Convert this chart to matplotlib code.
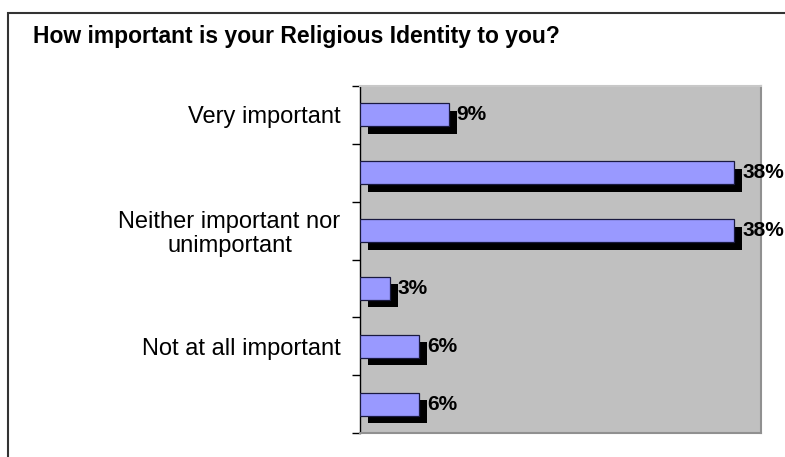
import matplotlib
matplotlib.use("Agg")
import matplotlib.pyplot as plt
from matplotlib.patches import Rectangle
from matplotlib.transforms import ScaledTranslation

# Survey answers, top to bottom; only every other category gets a printed label
categories = ["Very important", "", "Neither important nor\nunimportant", "", "Not at all important", ""]
percent = [9, 38, 38, 3, 6, 6]
title = "How important is your Religious Identity to you?"

plt.rcParams['font.family'] = ['Liberation Sans', 'DejaVu Sans']

fig = plt.figure(figsize=(7.85, 4.57), dpi=100)
ax = fig.add_axes([360 / 785, 1 - 433 / 457, 401 / 785, 347 / 457])
ax.set_facecolor('#c0c0c0')

pos = list(range(len(percent)))

# black drop shadow behind each bar, nudged right and down
shadow_tf = ax.transData + ScaledTranslation(0.08, -0.075, fig.dpi_scale_trans)
shadows = ax.barh(pos, percent, height=0.4, color='black', linewidth=0, zorder=2)
for s in shadows:
    s.set_transform(shadow_tf)

ax.barh(pos, percent, height=0.4, color='#9999ff', edgecolor='#1a1a40', linewidth=0.9, zorder=3)

for y, v in zip(pos, percent):
    ax.annotate(f"{v}%", (v, y), xytext=(8, 0), textcoords='offset pixels',
                ha='left', va='center', fontsize=15, fontweight='bold', zorder=4,
                annotation_clip=False)

ax.set_xlim(0, 40.74)
ax.set_ylim(len(percent) - 0.5, -0.5)
ax.set_xticks([])

# tick marks sit on the category boundaries, labels on the bar centres
ax.set_yticks([p - 0.5 for p in pos] + [len(pos) - 0.5])
ax.set_yticklabels([])
ax.set_yticks(pos, minor=True)
ax.set_yticklabels(categories, minor=True, fontsize=17)
ax.tick_params(axis='y', which='major', direction='out', length=5.8, width=1, color='black')
ax.tick_params(axis='y', which='minor', length=0, pad=14)
for lbl in ax.get_yticklabels(minor=True):
    lbl.set_multialignment('center')
    lbl.set_linespacing(1.1)

for side in ['top', 'right', 'bottom']:
    ax.spines[side].set_color('#909090')
    ax.spines[side].set_linewidth(1.5)
ax.spines['top'].set_color('#c8c8c8')
ax.spines['left'].set_color('black')
ax.spines['left'].set_linewidth(1)

fig.text(33 / 785, 1 - 36 / 457, title, ha='left', va='center', fontsize=16.5, fontweight='bold')

# chart frame, running off the right and bottom edges
fig.patches.append(Rectangle((8 / 785, -0.2), 1.2, 1.2 + (1 - 13 / 457) - 1,
                             transform=fig.transFigure, fill=False,
                             edgecolor='#333333', linewidth=1.5))

fig.savefig("out.png", dpi=100)
